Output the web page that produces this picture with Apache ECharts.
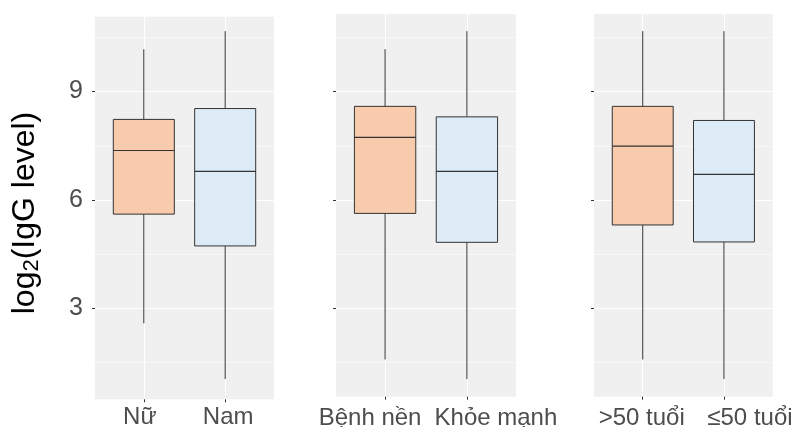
<!DOCTYPE html>
<html>
<head>
<meta charset="utf-8">
<script src="https://cdn.jsdelivr.net/npm/echarts@6/dist/echarts.min.js"></script>
<style>
  html, body { margin: 0; padding: 0; background: #ffffff; }
  #chart { width: 799px; height: 427px; }
</style>
</head>
<body>
<div id="chart"></div>
<script>
// IgG levels (log2) by group: [lower whisker, Q1, median, Q3, upper whisker]
const sexCategories = ['Nữ', 'Nam'];
const sexStats = [
  [2.59, 5.61, 7.37, 8.23, 10.17],
  [1.05, 4.73, 6.79, 8.53, 10.67]
];
const conditionCategories = ['Bệnh nền', 'Khỏe mạnh'];
const conditionStats = [
  [1.59, 5.63, 7.73, 8.59, 10.17],
  [1.05, 4.83, 6.79, 8.30, 10.67]
];
const ageCategories = ['>50 tuổi', '≤50 tuổi'];
const ageStats = [
  [1.59, 5.31, 7.49, 8.59, 10.67],
  [1.05, 4.84, 6.71, 8.20, 10.67]
];
const yTicks = [3, 6, 9];
const yMinorTicks = [1.5, 4.5, 7.5, 10.5];

// Styling
const FONT = 'Liberation Sans, Arial, sans-serif';
const boxFills = ['#F8CBAD', '#DDEBF7'];
const panelBg = '#F0F0F0';
const inkColor = '#333333';
const labelColor = '#4D4D4D';
// horizontal nudge (px) of each category label away from its tick
const labelNudge = [[-4, 3], [-15, 29], [-1, 26]];

const panels = [
  { cats: sexCategories, stats: sexStats, rect: { left: 95, top: 16.7, width: 179, height: 382.6 }, yRange: [0.489, 11.07], labelMargin: 6.5 },
  { cats: conditionCategories, stats: conditionStats, rect: { left: 336, top: 14, width: 180, height: 382.7 }, yRange: [0.561, 11.144], labelMargin: 9.5 },
  { cats: ageCategories, stats: ageStats, rect: { left: 594, top: 14, width: 178.7, height: 382.7 }, yRange: [0.561, 11.144], labelMargin: 9.5 }
];

function renderBox(params, api) {
  const x = api.value(0);
  const lo = api.value(1), q1 = api.value(2), med = api.value(3), q3 = api.value(4), hi = api.value(5);
  const fill = boxFills[api.value(6)];
  const halfW = api.size([0.75, 0])[0] / 2;
  const pHi = api.coord([x, hi]);
  const pQ3 = api.coord([x, q3]);
  const pMed = api.coord([x, med]);
  const pQ1 = api.coord([x, q1]);
  const pLo = api.coord([x, lo]);
  const cx = pHi[0];
  const stroke = { stroke: inkColor, lineWidth: 1, fill: null };
  return {
    type: 'group',
    children: [
      { type: 'line', shape: { x1: cx, y1: pHi[1], x2: cx, y2: pQ3[1] }, style: stroke },
      { type: 'line', shape: { x1: cx, y1: pQ1[1], x2: cx, y2: pLo[1] }, style: stroke },
      { type: 'rect', shape: { x: cx - halfW, y: pQ3[1], width: 2 * halfW, height: pQ1[1] - pQ3[1] },
        style: { fill: fill, stroke: inkColor, lineWidth: 1 } },
      { type: 'line', shape: { x1: cx - halfW, y1: pMed[1], x2: cx + halfW, y2: pMed[1] },
        style: { stroke: inkColor, lineWidth: 1.2 } }
    ]
  };
}

const grid = [], xAxis = [], yAxis = [], series = [];

panels.forEach((p, i) => {
  grid.push(Object.assign({
    show: true, backgroundColor: panelBg, borderWidth: 0,
    containLabel: false, outerBoundsMode: 'none'
  }, p.rect));

  const rich = {};
  p.cats.forEach((c, k) => {
    const d = labelNudge[i][k];
    rich['c' + k] = {
      fontFamily: FONT, fontSize: 24, color: labelColor,
      padding: d >= 0 ? [0, 0, 0, 2 * d] : [0, -2 * d, 0, 0]
    };
  });

  xAxis.push({
    type: 'value', gridIndex: i, min: 0.4, max: 2.6,
    axisLine: { show: false },
    axisTick: { show: true, customValues: [1, 2], length: 3, lineStyle: { color: inkColor, width: 1 } },
    axisLabel: {
      show: true, customValues: [1, 2], margin: p.labelMargin,
      formatter: v => '{c' + (v - 1) + '|' + p.cats[v - 1] + '}',
      rich: rich
    },
    splitLine: { show: true, lineStyle: { color: '#ffffff', width: 1 } }
  });

  const yMain = {
    type: 'value', gridIndex: i, min: p.yRange[0], max: p.yRange[1], position: 'left',
    axisLine: { show: false },
    axisTick: { show: true, customValues: yTicks, length: 3, lineStyle: { color: inkColor, width: 1 } },
    axisLabel: {
      show: i === 0, customValues: yTicks, margin: 12,
      fontFamily: FONT, fontSize: 25, color: labelColor, padding: [0, 0, 6, 0]
    },
    splitLine: { show: true, lineStyle: { color: '#ffffff', width: 1.1 } }
  };
  if (i === 0) {
    yMain.name = '{a|log}{s|2}{a|(IgG level)}';
    yMain.nameLocation = 'middle';
    yMain.nameRotate = 90;
    yMain.nameGap = 52;
    yMain.nameTextStyle = {
      padding: [0, 10, 0, 0],
      rich: {
        a: { fontFamily: FONT, fontSize: 32, color: '#000000', lineHeight: 36 },
        s: { fontFamily: FONT, fontSize: 22, color: '#000000', verticalAlign: 'bottom', lineHeight: 36 }
      }
    };
  }
  yAxis.push(yMain);

  // minor horizontal grid lines
  yAxis.push({
    type: 'value', gridIndex: i, min: p.yRange[0], max: p.yRange[1], position: 'left',
    axisLine: { show: false },
    axisTick: { show: false, customValues: yMinorTicks },
    axisLabel: { show: false, customValues: yMinorTicks },
    splitLine: { show: true, lineStyle: { color: '#ffffff', width: 0.6 } }
  });

  series.push({
    type: 'custom',
    xAxisIndex: i,
    yAxisIndex: 2 * i,
    renderItem: renderBox,
    encode: { x: 0, y: [1, 2, 3, 4, 5] },
    data: p.stats.map((s, k) => [k + 1].concat(s, [k])),
    z: 5
  });
});

const chart = echarts.init(document.getElementById('chart'), null, { renderer: 'canvas' });
chart.setOption({
  animation: false,
  backgroundColor: '#ffffff',
  grid: grid,
  xAxis: xAxis,
  yAxis: yAxis,
  series: series
});
</script>
</body>
</html>
